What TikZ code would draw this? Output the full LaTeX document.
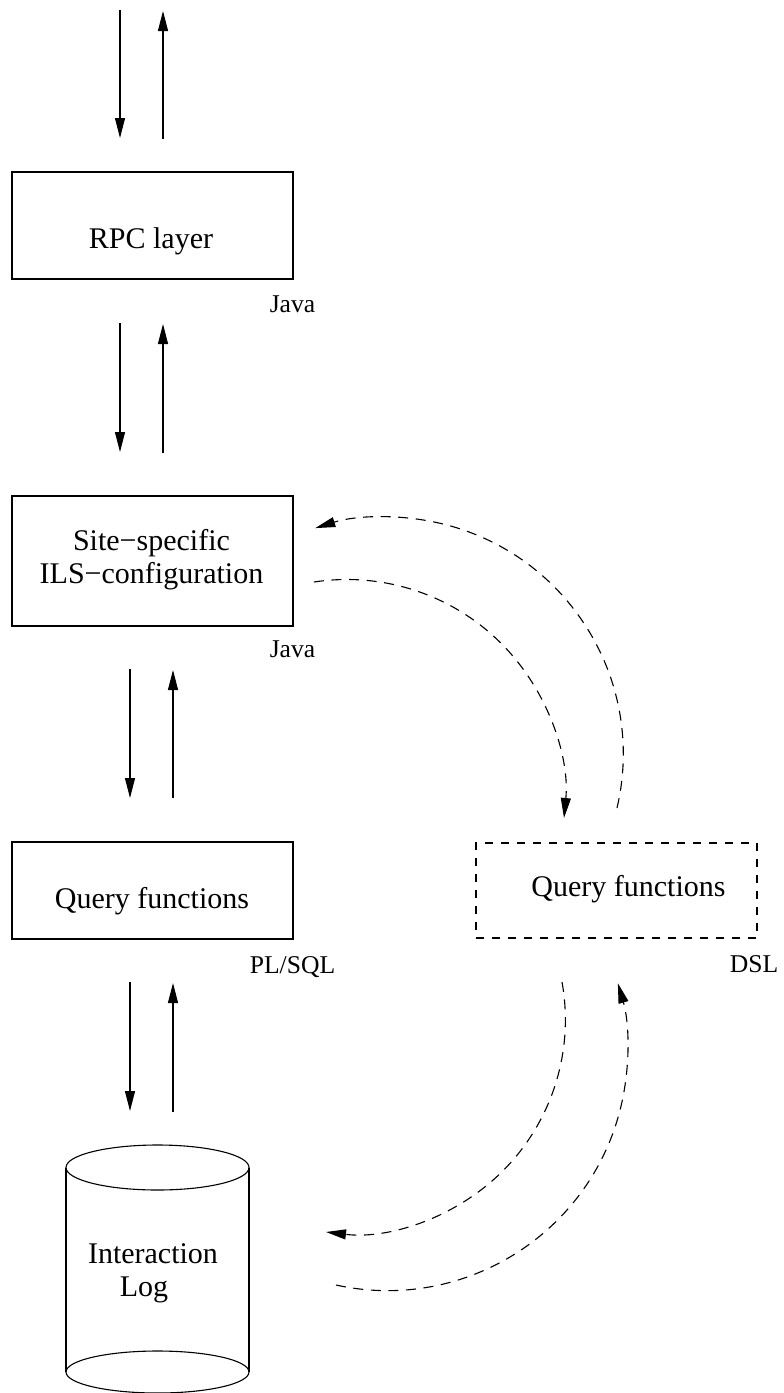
\documentclass[tikz,border=0pt]{standalone}
\usepackage{fontspec}
\setmainfont{Liberation Serif}
\usetikzlibrary{arrows.meta}
\begin{document}
\begin{tikzpicture}[x=0.5pt,y=-0.5pt,line width=0.55pt,
  layer/.style={draw, rectangle, minimum width=140.5pt, inner sep=0pt},
  ghost/.style={layer, dash pattern=on 4pt off 4pt},
  maintext/.style={font=\fontsize{15}{16.5}\selectfont, inner sep=0pt, anchor=base},
  lang/.style={font=\fontsize{12.8}{15}\selectfont, inner sep=0pt, anchor=base},
  call/.style={-{Triangle[length=10pt,width=5pt]}},
  flow/.style={call, dash pattern=on 5pt off 3.8pt}]
\useasboundingbox (0,0) rectangle (783,1393);

% layer boxes
\node[layer, minimum height=53.5pt] (rpc)  at (152.5,225.5) {};
\node[layer, minimum height=65pt]   (site) at (152.5,561) {};
\node[layer, minimum height=48.5pt] (qf)   at (152.5,890.5) {};
\node[ghost, minimum height=47.5pt] (dsl)  at (616.5,890.5) {};

% box captions
\node[maintext] (rpct)  at (151,248) {RPC layer};
\node[maintext] (sitea) at (151.5,550) {Site−specific};
\node[maintext] (siteb) at (151.5,583) {ILS−configuration};
\node[maintext] (qft)   at (152,908) {Query functions};
\node[maintext] (dslt)  at (628.5,896) {Query functions};
\node[maintext] (logt1) at (153,1263) {Interaction};
\node[maintext] (logt2) at (144,1296) {Log};

% implementation languages
\node[lang] (j1)  at (292.5,312) {Java};
\node[lang] (j2)  at (292.5,657) {Java};
\node[lang] (pl)  at (292.5,973) {PL/SQL};
\node[lang] (dl)  at (754,972) {DSL};

% interaction log store
\coordinate (logtop) at (157.5,1167.5);
\coordinate (logbot) at (157.5,1372);
\draw (logtop) ellipse [x radius=91.5, y radius=22.5];
\draw (logbot) ellipse [x radius=91.5, y radius=21];
\draw (66,1167.5) -- (66,1372);
\draw (249,1167.5) -- (249,1372);

% request / response pairs
\coordinate (d1s) at (120,10);   \coordinate (d1e) at (120,138);
\coordinate (u1s) at (163,139);  \coordinate (u1e) at (163,11);
\coordinate (d2s) at (120,323);  \coordinate (d2e) at (120,452);
\coordinate (u2s) at (163,453);  \coordinate (u2e) at (163,324);
\coordinate (d3s) at (130,669);  \coordinate (d3e) at (130,798);
\coordinate (u3s) at (173,798);  \coordinate (u3e) at (173,670);
\coordinate (d4s) at (130,982);  \coordinate (d4e) at (130,1111);
\coordinate (u4s) at (173,1112); \coordinate (u4e) at (173,983);
\foreach \p in {1,2,3,4}{
  \draw[call] (d\p s) -- (d\p e);
  \draw[call] (u\p s) -- (u\p e);
}

% alternative path through the DSL query functions
\coordinate (a1) at (617,808);
\coordinate (a2) at (314,582);
\coordinate (a3) at (562,982);
\coordinate (a4) at (336,1285);
\draw[flow] (a1) arc [start angle=13.2, end angle=-107.5, radius=236.8];
\draw[flow] (a2) arc [start angle=-98.7, end angle=5.4, radius=218];
\draw[flow] (a3) arc [start angle=-10.2, end angle=96.9, radius=213.7];
\draw[flow] (a4) arc [start angle=102.4, end angle=-16.3, radius=240];
\end{tikzpicture}
\end{document}
